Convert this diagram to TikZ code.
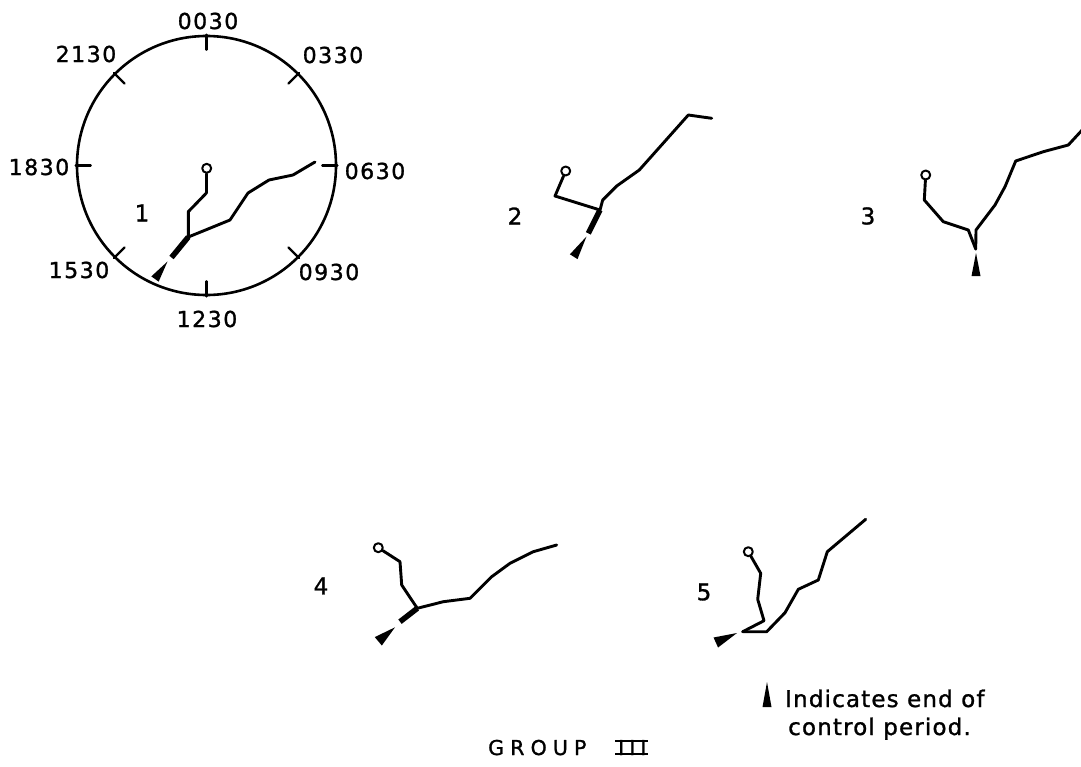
\documentclass[tikz,border=0pt]{standalone}
\usepackage{fontspec}
\setmainfont{DejaVu Sans}[RawFeature={embolden=1.2}]
\newfontfamily\dialfont[LetterSpace=7,RawFeature={embolden=1.2}]{DejaVu Sans}
\newfontfamily\notefont[LetterSpace=5,RawFeature={embolden=1.2}]{DejaVu Sans}
\newfontfamily\grpfont[LetterSpace=30,RawFeature={embolden=1.2}]{DejaVu Sans}
\usetikzlibrary{calc}
\newcommand\tipmark[3]{\fill (#1) -- ($(#2)!#3!90:(#1)$) -- ($(#2)!#3!-90:(#1)$) -- cycle;}
\newcommand\romanthree{\makebox[0pt][l]{\hspace{-3pt}\rule[-0.3pt]{33pt}{2.4pt}}\makebox[0pt][l]{\hspace{-3pt}\rule[12.8pt]{33pt}{2.4pt}}I\hspace{5pt}I\hspace{5pt}I}
\begin{document}
\begin{tikzpicture}[x=1pt,y=-1pt, line join=round, line cap=round,
  track/.style={line width=2.9pt},
  lead/.style={line width=5.5pt, line cap=butt},
  tick/.style={line width=2.4pt},
  start/.style={circle, draw, line width=2pt, minimum size=9pt, inner sep=0pt, fill=white},
  lbl/.style={font=\dialfont\fontsize{22}{26}\selectfont, inner sep=0pt},
  num/.style={font=\fontsize{23}{26}\selectfont, inner sep=0pt},
  note/.style={font=\notefont\fontsize{23}{27}\selectfont, inner sep=0pt, anchor=base west},
  grp/.style={font=\grpfont\fontsize{20.5}{24}\selectfont, inner sep=0pt, anchor=base west}]
\useasboundingbox (0,0) rectangle (1081,766);
\begin{scope}
\clip (0,0) rectangle (1081,766);

% dial
\node (dial) [circle, draw, line width=2.6pt, minimum size=259pt, inner sep=0pt] at (206.5,165.5) {};
\foreach \a in {0,45,90,135,180,225,270,315}{
  \draw[tick] (dial.\a) -- ($(dial.\a)!15pt!(dial.center)$);
}
\node[lbl] (l0030) at (208,21) {0030};
\node[lbl] (l2130) at (86,54) {2130};
\node[lbl] (l0330) at (333,55) {0330};
\node[lbl] (l1830) at (39,167) {1830};
\node[lbl] (l0630) at (375,171) {0630};
\node[lbl] (l1530) at (79,270) {1530};
\node[lbl] (l0930) at (329,272) {0930};
\node[lbl] (l1230) at (207,319) {1230};

% track 1
\node[num] (n1) at (142,213) {1};
\coordinate (j1) at (188.3,237);
\coordinate (e1) at (315,162);
\coordinate (l1) at (171.5,257.5);
\coordinate (a1) at (167.5,261.5);
\coordinate (b1) at (155,279);
\draw[track] (206.7,192.7) -- (188.3,211.7) -- (j1);
\draw[track] (j1) -- (208,229) -- (230,220) -- (248,193) -- (269,180) -- (293,175) -- (e1);
\draw[lead] (j1) -- (l1);
\tipmark{a1}{b1}{4.5pt}
\node[start] (s1) at (206.7,168.3) {};
\draw[track] (s1) -- (206.7,192.7);

% track 2
\node[num] (n2) at (515,216) {2};
\coordinate (j2) at (600,210);
\coordinate (e2) at (711.7,118.3);
\coordinate (l2) at (588.3,233.3);
\coordinate (a2) at (586.5,236.5);
\coordinate (b2) at (573.7,256.7);
\node[start] (s2) at (565.7,171) {};
\draw[track] (s2) -- (555,196) -- (j2);
\draw[track] (j2) -- (602.7,200) -- (616.7,186) -- (639.3,170) -- (688.3,115) -- (e2);
\draw[lead] (j2) -- (l2);
\tipmark{a2}{b2}{4.5pt}

% track 3
\node[num] (n3) at (868,216) {3};
\coordinate (j3) at (975.7,249);
\coordinate (e3) at (1084,128);
\coordinate (a3) at (976,253);
\coordinate (b3) at (976,276);
\node[start] (s3) at (925.7,175) {};
\draw[track] (s3) -- (924.3,200) -- (943.3,221.7) -- (968.3,230) -- (j3);
\draw[track] (j3) -- (976,230) -- (995,205) -- (1005,186.7) -- (1015.7,161) -- (1043.3,151.7) -- (1068.3,145) -- (e3);
\tipmark{a3}{b3}{4.5pt}

% track 4
\node[num] (n4) at (321,586) {4};
\coordinate (j4) at (417.3,608.3);
\coordinate (e4) at (556.7,545);
\coordinate (l4) at (400,621.7);
\coordinate (a4) at (395,627.3);
\coordinate (b4) at (378.3,641.3);
\node[start] (s4) at (378.3,547.7) {};
\draw[track] (s4) -- (400,561.7) -- (401.7,585) -- (j4);
\draw[track] (j4) -- (443.3,601.7) -- (470,598.3) -- (491.7,576.7) -- (510,563.3) -- (533.3,551.7) -- (e4);
\draw[lead] (j4) -- (l4);
\tipmark{a4}{b4}{5.5pt}

% track 5
\node[num] (n5) at (704,592) {5};
\coordinate (j5) at (742.7,631.7);
\coordinate (e5) at (865.7,519.3);
\coordinate (a5) at (737,633);
\coordinate (b5) at (715.8,642.5);
\node[start] (s5) at (748.3,551.7) {};
\draw[track] (s5) -- (760.7,573.3) -- (757.7,599.3) -- (764,620.7) -- (j5);
\draw[track] (j5) -- (766.7,631.7) -- (785,612.7) -- (798.3,589.3) -- (818.3,580) -- (827.3,551.7) -- (e5);
\tipmark{a5}{b5}{5.5pt}

% legend
\coordinate (a6) at (767,682);
\coordinate (b6) at (767,707);
\tipmark{a6}{b6}{4.5pt}
\node[note] (note1) at (785,707) {Indicates end of};
\node[note] (note2) at (788,735) {control period.};

% title
\node[grp] (title) at (488,755) {GROUP};
\node[font=\fontsize{20.5}{24}\selectfont, inner sep=0pt, anchor=base west] (grpnum) at (618,755) {\romanthree};
\end{scope}
\end{tikzpicture}
\end{document}
